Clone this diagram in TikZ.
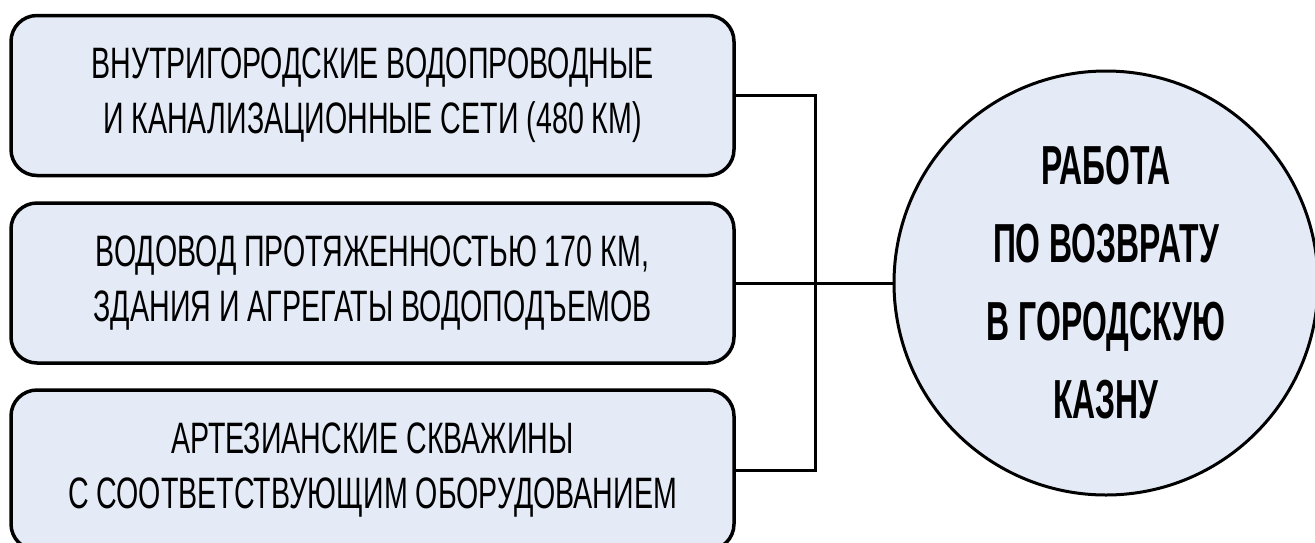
\documentclass[tikz,border=0pt]{standalone}
\usepackage{fontspec}
\newfontfamily\condfont[FakeStretch=0.65,BoldFeatures={FakeStretch=0.58}]{Liberation Sans}
\usetikzlibrary{positioning}
\definecolor{boxfill}{RGB}{229,235,246}

\begin{document}
\begin{tikzpicture}[x=1pt,y=-1pt,
	item/.style={draw,line width=3.5pt,rounded corners=26pt,fill=boxfill,
		minimum width=723pt,minimum height=160pt,align=center,
		font=\condfont\fontsize{44}{55}\selectfont},
	goal/.style={draw,line width=3pt,circle,fill=boxfill,minimum size=424pt,
		align=center,font=\condfont\bfseries\fontsize{55}{78}\selectfont},
	link/.style={line width=3pt}]
			\useasboundingbox (0,0) rectangle (1315,542);
			\node[item] (b1) at (372.5,95.5) {ВНУТРИГОРОДСКИЕ ВОДОПРОВОДНЫЕ\\И КАНАЛИЗАЦИОННЫЕ СЕТИ (480 КМ)};
			\node[item] (b2) at (372.5,283) {ВОДОВОД ПРОТЯЖЕННОСТЬЮ 170 КМ,\\ЗДАНИЯ И АГРЕГАТЫ ВОДОПОДЪЕМОВ};
			\node[item] (b3) at (372.5,470) {АРТЕЗИАНСКИЕ СКВАЖИНЫ\\С СООТВЕТСТВУЮЩИМ ОБОРУДОВАНИЕМ};
			\node[goal] (kazna) at (1106,283) {РАБОТА\\ПО ВОЗВРАТУ\\В ГОРОДСКУЮ\\КАЗНУ};
			\coordinate (jn) at (815,283);
			\draw[link] (b1.east) -| (jn) |- (b3.east);
			\draw[link] (b2.east) -- (kazna.west);
		\end{tikzpicture}
\end{document}
